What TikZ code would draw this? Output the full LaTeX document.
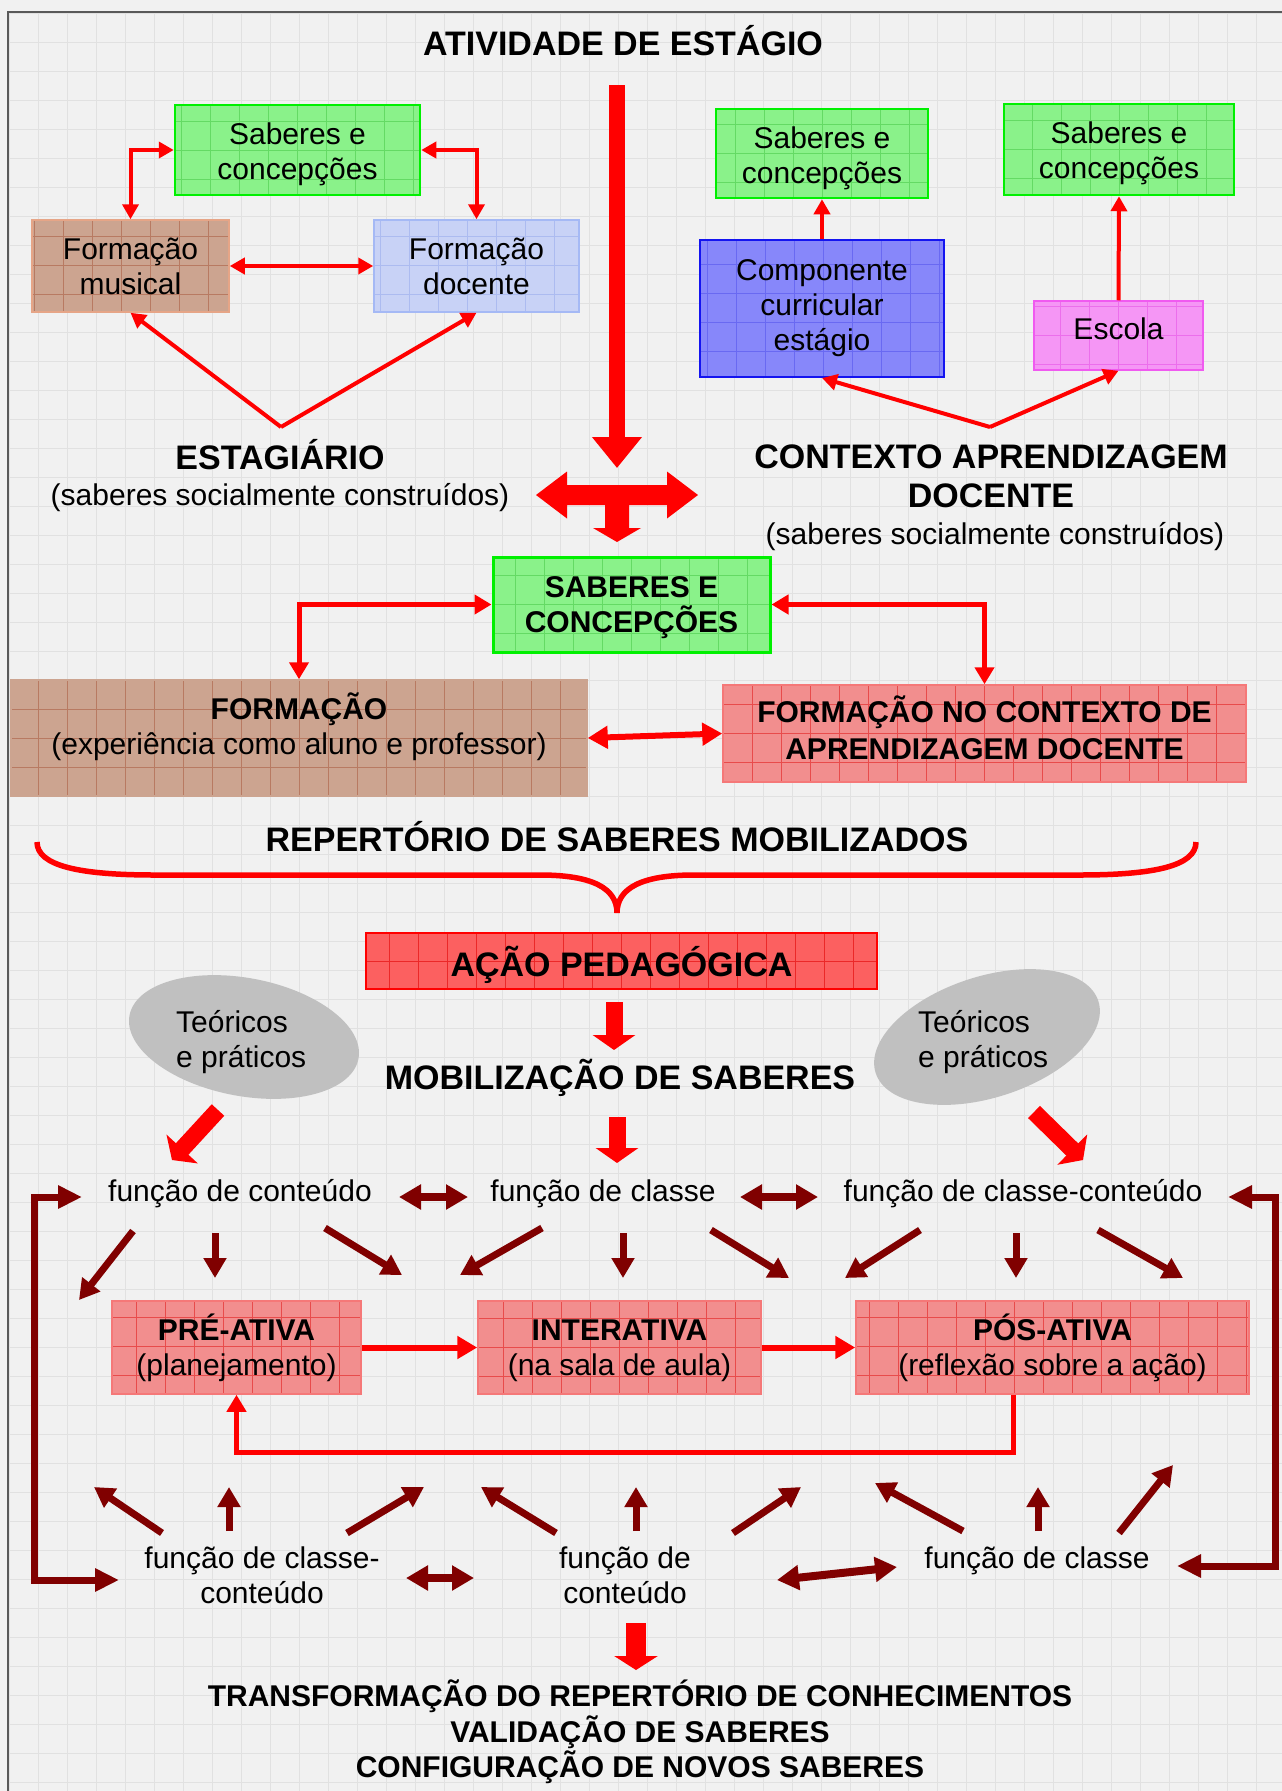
\documentclass[tikz,border=0pt]{standalone}
\usepackage{fontspec}
\setmainfont{Liberation Sans}
\usetikzlibrary{arrows.meta,shapes.geometric,calc}

\definecolor{bgc}{RGB}{241,241,241}
\definecolor{bggrid}{RGB}{225,225,225}
\definecolor{gfill}{RGB}{138,242,138}
\definecolor{ggrid}{RGB}{100,218,100}
\definecolor{gline}{RGB}{0,240,0}
\definecolor{bfill}{RGB}{204,164,144}
\definecolor{bgridc}{RGB}{184,122,98}
\definecolor{bline}{RGB}{230,165,135}
\definecolor{lbfill}{RGB}{200,210,246}
\definecolor{lbgrid}{RGB}{172,187,240}
\definecolor{lbline}{RGB}{165,185,245}
\definecolor{dbfill}{RGB}{135,135,250}
\definecolor{dbgrid}{RGB}{105,105,242}
\definecolor{dbline}{RGB}{20,20,240}
\definecolor{pfill}{RGB}{245,150,245}
\definecolor{pgrid}{RGB}{236,110,236}
\definecolor{pline}{RGB}{240,90,240}
\definecolor{sfill}{RGB}{242,142,142}
\definecolor{sgrid}{RGB}{232,75,75}
\definecolor{sline}{RGB}{245,120,120}
\definecolor{afill}{RGB}{252,96,96}
\definecolor{agrid}{RGB}{235,40,40}
\definecolor{dred}{RGB}{128,0,0}
\definecolor{ellc}{RGB}{192,192,192}

\tikzset{
  regtext/.style={font=\fontsize{30}{35}\selectfont, inner sep=0pt, align=center},
  boldtext/.style={font=\fontsize{30}{35}\selectfont\bfseries, inner sep=0pt, align=center},
  headtext/.style={font=\fontsize{34}{38}\selectfont\bfseries, inner sep=0pt, align=center},
  box/.style n args={3}{draw=#3, fill=#1, line width=1.5pt, inner sep=0pt, align=center,
    font=\fontsize{30}{35}\selectfont,
    path picture={\draw[#2, line width=0.6pt] (path picture bounding box.south west) grid[step=29pt] (path picture bounding box.north east);}},
  rarr/.style={draw=red, line width=4pt, >={Triangle[length=15pt,width=16pt]}},
  rarrm/.style={draw=red, line width=5pt, >={Triangle[length=17pt,width=19pt]}},
  rarrw/.style={draw=red, line width=6pt, >={Triangle[length=20pt,width=22pt]}},
  darr/.style={draw=dred, line width=7pt, ->, >={Triangle[length=20pt,width=22pt]}},
  darrd/.style={draw=dred, line width=8pt, <->, >={Triangle[length=22pt,width=24pt]}},
  dloop/.style={draw=dred, line width=7pt, <->, >={Triangle[length=24pt,width=22pt]}},
  bigarr/.style={draw=red, line width=17pt, ->, >={Triangle[length=15pt,width=42pt]}},
  ellnode/.style={ellipse, fill=ellc, inner sep=0pt},
}

\begin{document}
\begin{tikzpicture}[x=1pt,y=-1pt]
\useasboundingbox (0,0) rectangle (1282,1791);
\fill[bgc] (0,0) rectangle (1282,1791);
\begin{scope}
\clip (8,12) rectangle (1282,1791);
\draw[bggrid, line width=1pt, step=29pt, shift={(9,13)}] (0,0) grid (1280,1780);
\end{scope}
\draw[black!65, line width=2pt] (8,1800) -- (8,12) -- (1290,12);

% ---------- top title and main arrow
\node[headtext, anchor=base] (title) at (623,55) {ATIVIDADE DE ESTÁGIO};
\coordinate (mtop) at (617,85);
\coordinate (mtip) at (617,468);
\draw[draw=red, line width=16pt, ->, >={Triangle[length=31pt,width=48pt]}] (mtop) -- (mtip);
\fill[red] (536,495) -- (567,471.5) -- (567,485) -- (667,485) -- (667,471.5) -- (698,495)
  -- (667,518.5) -- (667,505) -- (629,505) -- (629,528) -- (641,528) -- (617,542)
  -- (593,528) -- (605,528) -- (605,505) -- (567,505) -- (567,518.5) -- cycle;

% ---------- top-left group
\node[box={gfill}{ggrid}{gline}, line width=2.5pt, minimum width=245pt, minimum height=90pt] (sab1) at (297.5,150) {};
\node[regtext] (sab1t) at ($(sab1)+(0,4.5)$) {Saberes e\\concepções};
\node[box={bfill}{bgridc}{bline}, minimum width=197pt, minimum height=92pt] (fmus) at (130.5,266) {Formação\\musical};
\node[box={lbfill}{lbgrid}{lbline}, minimum width=205pt, minimum height=92pt] (fdoc) at (476.5,266) {Formação\\docente};
\draw[rarr,<->] (sab1.west) -| (fmus.north);
\draw[rarr,<->] (sab1.east) -| (fdoc.north);
\draw[rarr,<->] (fmus.east) -- (fdoc.west);
\coordinate (apex1) at (281,427);
\draw[rarr,->] (apex1) -- (fmus.south);
\draw[rarr,->] (apex1) -- (fdoc.south);
\node[headtext, anchor=base] (estag) at (280,469) {ESTAGIÁRIO};
\node[regtext, anchor=base] (estags) at (280,505) {(saberes socialmente construídos)};

% ---------- top-right group
\node[box={gfill}{ggrid}{gline}, line width=2.5pt, minimum width=212pt, minimum height=89pt] (sab2) at (822,153.5) {};
\node[regtext] (sab2t) at ($(sab2)+(0,4.5)$) {Saberes e\\concepções};
\node[box={gfill}{ggrid}{gline}, line width=2.5pt, minimum width=230pt, minimum height=91pt] (sab3) at (1119,149.5) {};
\node[regtext] (sab3t) at ($(sab3)+(0,3.5)$) {Saberes e\\concepções};
\node[box={dbfill}{dbgrid}{dbline}, line width=2pt, minimum width=244pt, minimum height=137pt] (comp) at (822,308.5) {Componente\\curricular\\estágio};
\node[box={pfill}{pgrid}{pline}, minimum width=169pt, minimum height=69pt] (esc) at (1118.5,335.5) {};
\node[regtext] (esct) at ($(esc)+(0,-7)$) {Escola};
\draw[rarr,->] (comp.north) -- (sab2.south);
\draw[rarr,->] (esc.north) -- (sab3.south);
\coordinate (apex2) at (990,427);
\draw[rarr,->] (apex2) -- (comp.south);
\draw[rarr,->] (apex2) -- (esc.south);
\node[headtext, anchor=base] (cont1) at (991,468) {CONTEXTO APRENDIZAGEM};
\node[headtext, anchor=base] (cont2) at (991,507) {DOCENTE};
\node[regtext, anchor=base] (conts) at (995,544) {(saberes socialmente construídos)};

% ---------- middle group
\node[box={gfill}{ggrid}{gline}, line width=3pt, minimum width=277pt, minimum height=95pt] (sabM) at (631.5,604.5) {};
\node[boldtext] (sabMt) at ($(sabM)+(0,3.5)$) {SABERES E\\CONCEPÇÕES};
\node[box={bfill}{bgridc}{bfill}, minimum width=576pt, minimum height=116pt] (form) at (299,738) {};
\node[regtext] (formt) at (299,727) {\textbf{FORMAÇÃO}\\(experiência como aluno e professor)};
\node[box={sfill}{sgrid}{sline}, minimum width=523pt, minimum height=97pt] (fcont) at (984.5,733.5) {};
\node[boldtext, font=\fontsize{30}{37}\selectfont\bfseries] (fcontt) at ($(fcont)+(0,-6)$) {FORMAÇÃO NO CONTEXTO DE\\APRENDIZAGEM DOCENTE};
\draw[rarrm,<->] (sabM.west) -| (form.north);
\draw[rarrm,<->] (sabM.east) -| (fcont.north);
\draw[rarrw,<->] (form.east) -- (fcont.west);

% ---------- repertoire brace
\node[headtext, anchor=base] (rep) at (617,851) {REPERTÓRIO DE SABERES MOBILIZADOS};
\draw[red, line width=5.5pt] (37,842) .. controls (37,866) and (80,875) .. (155,875) -- (540,875)
  .. controls (592,875) and (617,888) .. (617,913)
  .. controls (617,888) and (642,875) .. (694,875) -- (1079,875)
  .. controls (1154,875) and (1196,866) .. (1196,842);

% ---------- action
\node[box={afill}{agrid}{red}, minimum width=511pt, minimum height=56pt] (acao) at (621.5,961) {};
\node[headtext] (acaot) at ($(acao)+(0,3.5)$) {AÇÃO PEDAGÓGICA};
\coordinate (m1a) at (614,1002); \coordinate (m1b) at (614,1050);
\draw[bigarr] (m1a) -- (m1b);
\node[headtext, anchor=base] (mob) at (620,1089) {MOBILIZAÇÃO DE SABERES};

\node[ellnode, minimum width=233pt, minimum height=118pt, rotate=-10.7] (ell1) at (244,1037) {};
\node[ellnode, minimum width=234pt, minimum height=121pt, rotate=17.9] (ell2) at (987,1037) {};
\node[regtext, anchor=base west] (e1a) at (176,1032) {Teóricos};
\node[regtext, anchor=base west] (e1b) at (176,1067) {e práticos};
\node[regtext, anchor=base west] (e2a) at (918,1032) {Teóricos};
\node[regtext, anchor=base west] (e2b) at (918,1067) {e práticos};

\coordinate (m2a) at (617,1117); \coordinate (m2b) at (617,1163);
\coordinate (m3a) at (218,1110); \coordinate (m3b) at (172,1160);
\coordinate (m4a) at (1034,1112); \coordinate (m4b) at (1083,1160);
\draw[bigarr] (m2a) -- (m2b);
\draw[bigarr] (m3a) -- (m3b);
\draw[bigarr] (m4a) -- (m4b);

% ---------- first function row
\node[regtext, anchor=base] (fc1) at (240,1201) {função de conteúdo};
\node[regtext, anchor=base] (fc2) at (603,1201) {função de classe};
\node[regtext, anchor=base] (fc3) at (1023,1201) {função de classe-conteúdo};
\coordinate (d1a) at (399,1197); \coordinate (d1b) at (468,1197);
\coordinate (d2a) at (740,1197); \coordinate (d2b) at (818,1197);
\draw[darrd] (d1a) -- (d1b);
\draw[darrd] (d2a) -- (d2b);

\foreach \n/\sx/\sy/\ex/\ey in {a1/133/1231/79/1300, a2/215/1233/215/1278, a3/325/1228/402/1275,
  a4/542/1228/460/1275, a5/623/1233/623/1278, a6/711/1230/789/1278,
  a7/920/1230/845/1278, a8/1016/1233/1016/1278, a9/1098/1230/1183/1278}{
  \coordinate (\n s) at (\sx,\sy); \coordinate (\n e) at (\ex,\ey);
  \draw[darr] (\n s) -- (\n e);
}

% ---------- phases
\node[box={sfill}{sgrid}{sline}, minimum width=249pt, minimum height=93pt] (pre) at (236.5,1347.5) {\textbf{PRÉ-ATIVA}\\(planejamento)};
\node[box={sfill}{sgrid}{sline}, minimum width=283pt, minimum height=93pt] (inter) at (619.5,1347.5) {};
\node[regtext] (intert) at ($(inter)+(0,3)$) {\textbf{INTERATIVA}\\(na sala de aula)};
\node[box={sfill}{sgrid}{sline}, minimum width=393pt, minimum height=93pt] (pos) at (1052.5,1347.5) {\textbf{PÓS-ATIVA}\\(reflexão sobre a ação)};
\draw[rarrw,->] (pre.east) -- (inter.west);
\draw[rarrw,->] (inter.east) -- (pos.west);
\coordinate (fbs) at ($(pos.south west)!0.4!(pos.south east)$);
\draw[rarrm,->] (fbs) -- ++(0,58) -| (pre.south);

% ---------- bottom function row
\foreach \n/\sx/\sy/\ex/\ey in {b1/162/1533/94/1487, b2/229/1531/229/1487, b3/347/1533/424/1487,
  b4/556/1533/481/1487, b5/636/1531/636/1487, b6/733/1533/801/1487,
  b7/963/1531/875/1483, b8/1038/1531/1038/1487, b9/1119/1533/1173/1465}{
  \coordinate (\n s) at (\sx,\sy); \coordinate (\n e) at (\ex,\ey);
  \draw[darr] (\n s) -- (\n e);
}
\node[regtext, anchor=base] (fb1a) at (262,1568) {função de classe-};
\node[regtext, anchor=base] (fb1b) at (262,1603) {conteúdo};
\node[regtext, anchor=base] (fb2a) at (625,1568) {função de};
\node[regtext, anchor=base] (fb2b) at (625,1603) {conteúdo};
\node[regtext, anchor=base] (fb3) at (1037,1568) {função de classe};
\coordinate (d3a) at (406,1578); \coordinate (d3b) at (474,1578);
\coordinate (d4a) at (777,1580); \coordinate (d4b) at (897,1567);
\draw[darrd] (d3a) -- (d3b);
\draw[darrd] (d4a) -- (d4b);

% ---------- loops
\coordinate (lt1) at (82,1197); \coordinate (lc1) at (34,1197);
\coordinate (lc2) at (34,1580); \coordinate (lt2) at (119,1580);
\draw[dloop] (lt1) -- (lc1) -- (lc2) -- (lt2);
\coordinate (rt1) at (1228,1197); \coordinate (rc1) at (1275,1197);
\coordinate (rc2) at (1275,1566); \coordinate (rt2) at (1177,1566);
\draw[dloop] (rt1) -- (rc1) -- (rc2) -- (rt2);

% ---------- final
\coordinate (m5a) at (636,1623); \coordinate (m5b) at (636,1670);
\draw[draw=red, line width=20pt, ->, >={Triangle[length=14pt,width=43pt]}] (m5a) -- (m5b);
\node[boldtext, anchor=base] (fin1) at (640,1706) {TRANSFORMAÇÃO DO REPERTÓRIO DE CONHECIMENTOS};
\node[boldtext, anchor=base] (fin2) at (640,1742) {VALIDAÇÃO DE SABERES};
\node[boldtext, anchor=base] (fin3) at (640,1777) {CONFIGURAÇÃO DE NOVOS SABERES};
\end{tikzpicture}
\end{document}
